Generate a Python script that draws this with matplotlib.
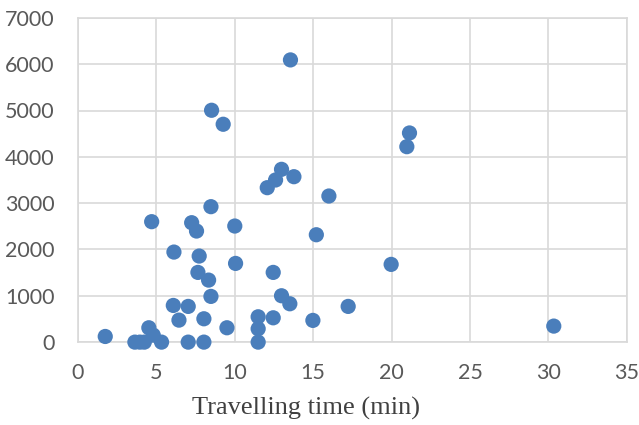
import matplotlib.pyplot as plt

# Travelling time (min) vs value
travel_time = [1.74, 13.55, 8.52, 9.26, 21.14, 20.97, 12.98, 12.6, 13.77, 12.07,
               16.0, 8.48, 4.7, 7.25, 7.56, 10.0, 15.2, 6.12, 7.73, 10.05,
               19.97, 7.65, 12.45, 8.33, 8.48, 12.98, 13.51, 17.23, 6.08, 7.03,
               11.49, 12.45, 6.44, 8.03, 14.98, 4.52, 9.5, 11.49, 30.34, 4.8,
               3.63, 3.95, 4.23, 5.33, 7.03, 8.03, 11.49]
value = [122, 6092, 5005, 4703, 4515, 4219, 3730, 3500, 3571, 3334,
         3154, 2924, 2600, 2578, 2398, 2506, 2318, 1944, 1858, 1699,
         1678, 1505, 1505, 1339, 987, 1001, 828, 771, 792, 771,
         547, 525, 475, 504, 469, 310, 310, 288, 346, 151,
         0, 0, 0, 0, 0, 0, 0]

xticks = [0, 5, 10, 15, 20, 25, 30, 35]
yticks = [0, 1000, 2000, 3000, 4000, 5000, 6000, 7000]

grid_col = '#d9d9d9'
fig = plt.figure(figsize=(6.39, 4.25), dpi=100)
ax = fig.add_axes([0.122, 0.195, 0.859, 0.763])

ax.scatter(travel_time, value, s=120, color='#4a7ebb', edgecolor='none', zorder=3, clip_on=False)

ax.set_xlim(0, 35)
ax.set_ylim(0, 7000)
ax.set_xticks(xticks)
ax.set_yticks(yticks)
ax.grid(True, color=grid_col, linewidth=1.2, zorder=0)
ax.set_axisbelow(True)
for sp in ax.spines.values():
    sp.set_color(grid_col)
    sp.set_linewidth(1.2)

ax.tick_params(length=0, labelsize=15.5, labelcolor='#595959', labelfontfamily='Lato')
ax.tick_params(axis='y', pad=17)
ax.tick_params(axis='x', pad=15)

ax.set_xlabel('Travelling time (min)', fontsize=19, family='Liberation Serif',
              color='#404040', labelpad=11)
ax.xaxis.set_label_coords(0.415, -0.17)

fig.savefig('out.png', dpi=100)
